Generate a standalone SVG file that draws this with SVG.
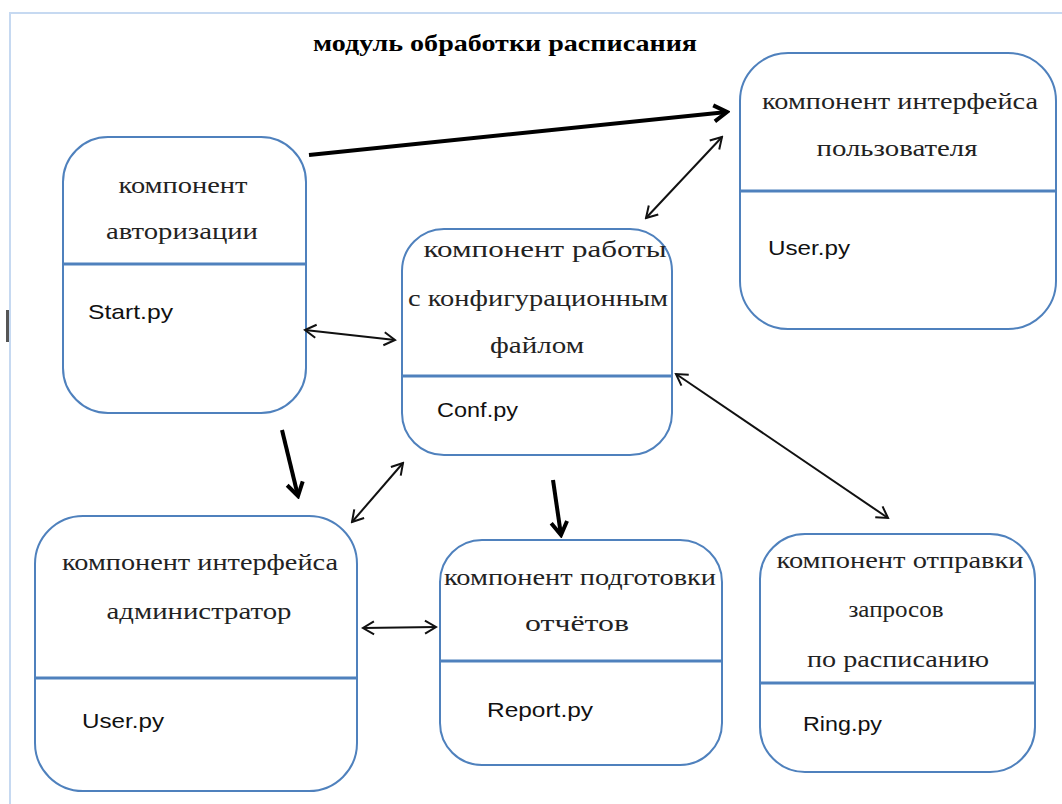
<svg xmlns="http://www.w3.org/2000/svg" width="1062" height="804" viewBox="0 0 1062 804">
<style>
.box{fill:#fff;stroke:#4f81bd;stroke-width:2}
.div{stroke:#4f81bd;stroke-width:3}
.t{font-family:"Liberation Serif","Times New Roman",serif;font-size:24px;fill:#222;text-anchor:middle}
.c{font-family:"Liberation Sans",Arial,sans-serif;font-size:21px;fill:#111}
.thin{stroke:#111;stroke-width:2;fill:none;marker-start:url(#hs);marker-end:url(#hs)}
.thick{stroke:#000;stroke-width:4;fill:none;marker-end:url(#hb)}
</style>
<defs>
<marker id="hs" viewBox="0 0 16 16" refX="14" refY="8" markerWidth="16" markerHeight="16" markerUnits="userSpaceOnUse" orient="auto-start-reverse">
<path d="M3,1.5 L14,8 L3,14.5" fill="none" stroke="#111" stroke-width="2"/>
</marker>
<marker id="hb" viewBox="0 0 20 20" refX="17" refY="10" markerWidth="20" markerHeight="20" markerUnits="userSpaceOnUse" orient="auto">
<path d="M4,2 L17,10 L4,18" fill="none" stroke="#000" stroke-width="4"/>
</marker>
</defs>
<rect width="1062" height="804" fill="#fff"/>
<g id="frame">
<path d="M10,804 V13 H1062" fill="none" stroke="#c6d9f1" stroke-width="2"/>
<rect x="6" y="310" width="3" height="32" fill="#555"/>
</g>
<text x="505" y="51" font-family="Liberation Serif,'Times New Roman',serif" font-size="24" font-weight="bold" text-anchor="middle" fill="#000" textLength="384" lengthAdjust="spacingAndGlyphs">модуль обработки расписания</text>
<g id="auth">
<rect class="box" x="63" y="137" width="243" height="276" rx="45"/>
<line class="div" x1="63" y1="264" x2="306" y2="264"/>
<text class="t" x="183" y="193" textLength="129" lengthAdjust="spacingAndGlyphs">компонент</text>
<text class="t" x="182" y="239" textLength="152" lengthAdjust="spacingAndGlyphs">авторизации</text>
<text class="c" x="88" y="319" textLength="85" lengthAdjust="spacingAndGlyphs">Start.py</text>
</g>
<g id="ui">
<rect class="box" x="740" y="53" width="316" height="276" rx="48"/>
<line class="div" x1="740" y1="191" x2="1056" y2="191"/>
<text class="t" x="900" y="109" textLength="276" lengthAdjust="spacingAndGlyphs">компонент интерфейса</text>
<text class="t" x="897" y="156" textLength="161" lengthAdjust="spacingAndGlyphs">пользователя</text>
<text class="c" x="768" y="255" textLength="82" lengthAdjust="spacingAndGlyphs">User.py</text>
</g>
<g id="conf">
<rect class="box" x="402" y="229" width="270" height="226" rx="42"/>
<line class="div" x1="402" y1="376" x2="672" y2="376"/>
<text class="t" x="545" y="257" textLength="243" lengthAdjust="spacingAndGlyphs">компонент работы</text>
<text class="t" x="538" y="306" textLength="260" lengthAdjust="spacingAndGlyphs">с конфигурационным</text>
<text class="t" x="537" y="353" textLength="94" lengthAdjust="spacingAndGlyphs">файлом</text>
<text class="c" x="437" y="417" textLength="81" lengthAdjust="spacingAndGlyphs">Conf.py</text>
</g>
<g id="admin">
<rect class="box" x="35" y="516" width="322" height="275" rx="48"/>
<line class="div" x1="35" y1="678" x2="357" y2="678"/>
<text class="t" x="200" y="570" textLength="276" lengthAdjust="spacingAndGlyphs">компонент интерфейса</text>
<text class="t" x="199" y="619" textLength="185" lengthAdjust="spacingAndGlyphs">администратор</text>
<text class="c" x="82" y="728" textLength="82" lengthAdjust="spacingAndGlyphs">User.py</text>
</g>
<g id="report">
<rect class="box" x="440" y="540" width="282" height="225" rx="42"/>
<line class="div" x1="440" y1="661" x2="722" y2="661"/>
<text class="t" x="580" y="585" textLength="272" lengthAdjust="spacingAndGlyphs">компонент подготовки</text>
<text class="t" x="577" y="631" textLength="104" lengthAdjust="spacingAndGlyphs">отчётов</text>
<text class="c" x="487" y="717" textLength="106" lengthAdjust="spacingAndGlyphs">Report.py</text>
</g>
<g id="ring">
<rect class="box" x="760" y="534" width="275" height="238" rx="45"/>
<line class="div" x1="760" y1="683" x2="1035" y2="683"/>
<text class="t" x="900" y="568" textLength="247" lengthAdjust="spacingAndGlyphs">компонент отправки</text>
<text class="t" x="896" y="617" textLength="95" lengthAdjust="spacingAndGlyphs">запросов</text>
<text class="t" x="898" y="667" textLength="182" lengthAdjust="spacingAndGlyphs">по расписанию</text>
<text class="c" x="803" y="731" textLength="79" lengthAdjust="spacingAndGlyphs">Ring.py</text>
</g>
<g id="connectors">
<line class="thick" x1="309" y1="155" x2="727" y2="112"/>
<line class="thin" x1="646" y1="218" x2="722" y2="137"/>
<line class="thin" x1="305" y1="330" x2="395" y2="340"/>
<line class="thick" x1="282" y1="430" x2="298" y2="496"/>
<line class="thin" x1="352" y1="522" x2="403" y2="463"/>
<line class="thick" x1="553" y1="480" x2="561" y2="535"/>
<line class="thin" x1="676" y1="374" x2="888" y2="518"/>
<line class="thin" x1="363" y1="628" x2="436" y2="627"/>
</g>
</svg>
